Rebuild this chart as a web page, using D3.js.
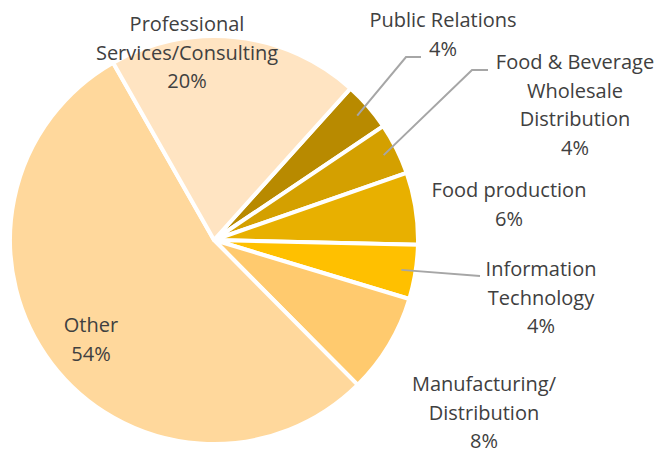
<!DOCTYPE html>
<html><head><meta charset="utf-8">
<script src="https://cdn.jsdelivr.net/npm/d3@7"></script>
<style>
html,body{margin:0;padding:0;background:#fff;}
svg{display:block;}
text{font-family:"Open Sans","Noto Sans",sans-serif;fill:#404040;}
</style></head>
<body>
<svg id="chart" width="669" height="454"></svg>
<script>
const categories = ["Public Relations","Food & Beverage Wholesale Distribution","Food production","Information Technology","Manufacturing/ Distribution","Other","Professional Services/Consulting"];
const values = [3.9, 4.1, 5.7, 4.3, 7.9, 54.2, 19.9];
const pctLabels = ["4%","4%","6%","4%","8%","54%","20%"];
const labelLines = [
  ["Public Relations","4%"],
  ["Food & Beverage","Wholesale","Distribution","4%"],
  ["Food production","6%"],
  ["Information","Technology","4%"],
  ["Manufacturing/","Distribution","8%"],
  ["Other","54%"],
  ["Professional","Services/Consulting","20%"]
];
const colors = ["#B88A00","#D4A000","#E8B000","#FFC000","#FFCA6E","#FFD89C","#FFE4C2"];

const svg = d3.select("#chart");
const cx = 214, cy = 240, R = 204;
const startDeg = 42;
const pie = d3.pie().sort(null).value(d=>d)
  .startAngle(startDeg*Math.PI/180).endAngle((startDeg+360)*Math.PI/180);
const arcs = pie(values);
const arc = d3.arc().innerRadius(0).outerRadius(R);

const g = svg.append("g").attr("transform",`translate(${cx},${cy})`);
g.selectAll("path").data(arcs).join("path")
  .attr("d",arc).attr("fill",(d,i)=>colors[i])
  .attr("stroke","#fff").attr("stroke-width",4).attr("stroke-linejoin","round");

// label anchor positions (center x, first baseline y) in page coordinates
const labelPos = [
  [443,27],[575,69],[509,197],[541,276],[484,391],[91,332],[187,31]
];
const lineH = 28.5;

const leaders = [
  {i:0, pts:[[406,57],[421,57]]},
  {i:1, pts:[[472,70],[488,70]]},
  {i:3, pts:[[480,276]]}
];
const lineGen = d3.line();
leaders.forEach(l=>{
  const a = arcs[l.i];
  const mid = (a.startAngle+a.endAngle)/2;
  const r0 = R*0.93;
  const p0 = [cx + r0*Math.sin(mid), cy - r0*Math.cos(mid)];
  svg.append("path").attr("d",lineGen([p0, ...l.pts]))
    .attr("fill","none").attr("stroke","#A6A6A6").attr("stroke-width",2);
});

const lg = svg.append("g");
labelLines.forEach((lines,i)=>{
  const t = lg.append("text").attr("text-anchor","middle")
    .attr("font-size",20);
  lines.forEach((s,k)=>{
    t.append("tspan").attr("x",labelPos[i][0]).attr("y",labelPos[i][1]+k*lineH).text(s);
  });
});
</script>
</body></html>
